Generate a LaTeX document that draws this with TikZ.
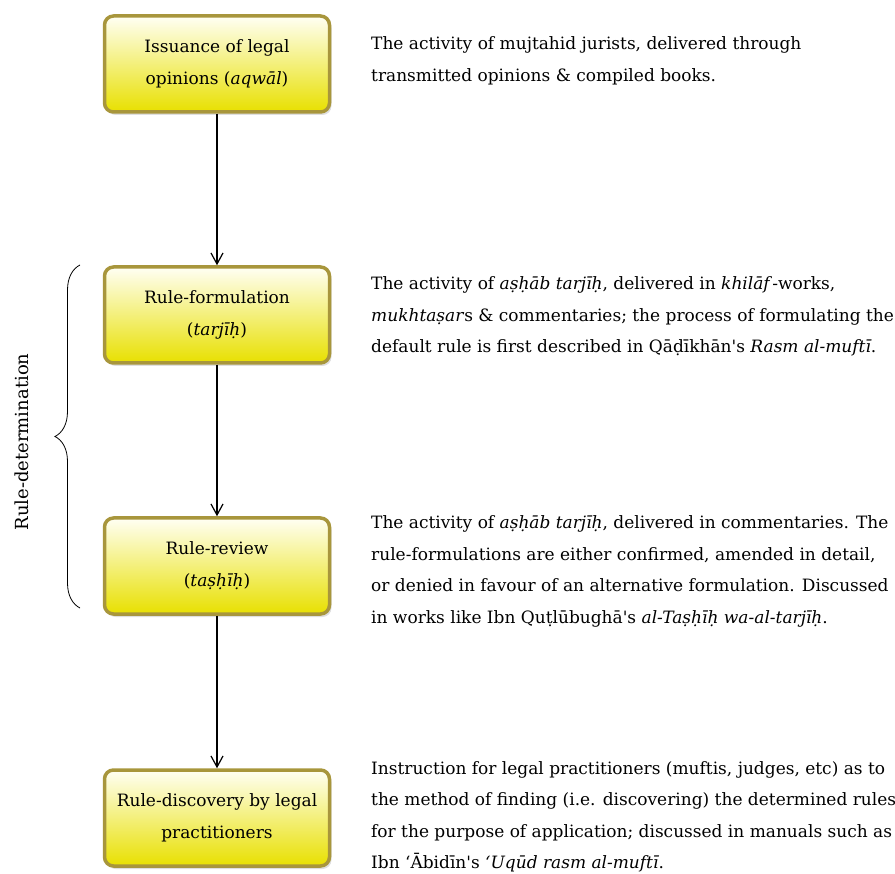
\documentclass[tikz,border=0pt]{standalone}
\usepackage{fontspec}
\setmainfont{DejaVu Serif}
\usetikzlibrary{positioning, shadows, arrows.meta}
\usetikzlibrary{decorations.pathreplacing}

\definecolor{stageborder}{HTML}{A8963C}
\definecolor{stagetop}{HTML}{FFFFF4}
\definecolor{stagebottom}{HTML}{E8E000}

\begin{document}
\begin{tikzpicture}[x=1pt, y=-1pt,
    stage/.style={draw=stageborder, line width=3.5pt, rounded corners=9pt,
        top color=stagetop, bottom color=stagebottom,
        minimum width=225pt, minimum height=96pt, align=center,
        font=\fontsize{17}{32}\selectfont,
        drop shadow={shadow xshift=2pt, shadow yshift=-3pt, opacity=0.25}},
    note/.style={anchor=west, align=left, inner sep=0pt,
        font=\fontsize{17}{31.5}\selectfont},
    flow/.style={-{Straight Barb[length=11pt, width=12pt]}, line width=1.2pt}]
    \useasboundingbox (0,0) rectangle (895,874);

    % stages of the process
    \node[stage] (opinions) at (217,64) {Issuance of legal\\opinions (\textit{aqwāl})};
    \node[stage] (formulation) at (217,315) {Rule-formulation\\(\textit{tarjīḥ})};
    \node[stage] (review) at (217,566) {Rule-review\\(\textit{taṣḥīḥ})};
    \node[stage] (discovery) at (217,818) {Rule-discovery by legal\\practitioners};

    \draw[flow] (opinions) -- (formulation);
    \draw[flow] (formulation) -- (review);
    \draw[flow] (review) -- (discovery);

    % descriptions
    \node[note] (opinions text) at (371,61) {The activity of mujtahid jurists, delivered through\\
        transmitted opinions \& compiled books.};
    \node[note] (formulation text) at (371,316.5) {The activity of \textit{aṣḥāb tarjīḥ}, delivered in \textit{khilāf}-works,\\
        \textit{mukhtaṣar}s \& commentaries; the process of formulating the\\
        default rule is first described in Qāḍīkhān\textquotesingle s \textit{Rasm al-muftī}.};
    \node[note] (review text) at (371,571.5) {The activity of \textit{aṣḥāb tarjīḥ}, delivered in commentaries. The\\
        rule-formulations are either confirmed, amended in detail,\\
        or denied in favour of an alternative formulation. Discussed\\
        in works like Ibn Quṭlūbughā\textquotesingle s \textit{al-Taṣḥīḥ wa-al-tarjīḥ}.};
    \node[note] (discovery text) at (371,817) {Instruction for legal practitioners (muftis, judges, etc) as to\\
        the method of finding (i.e. discovering) the determined rules\\
        for the purpose of application; discussed in manuals such as\\
        Ibn ‘Ābidīn\textquotesingle s \textit{‘Uqūd rasm al-muftī}.};

    % brace over formulation and review
    \coordinate (brace bottom) at (80,608);
    \coordinate (brace top) at (80,265);
    \draw[decorate, decoration={brace, amplitude=25pt}, line width=0.8pt]
        (brace bottom) -- (brace top);
    \node[rotate=90, font=\fontsize{18}{20}\selectfont] (determination) at (22,442) {Rule-determination};
\end{tikzpicture}
\end{document}
